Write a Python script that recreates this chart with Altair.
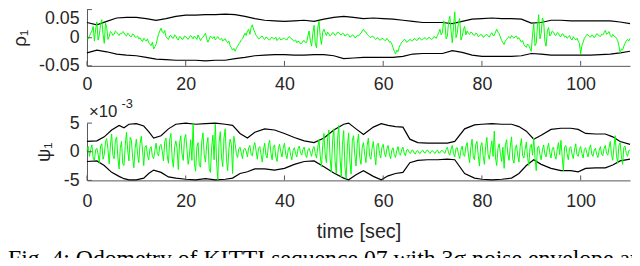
import altair as alt
import pandas as pd

# ---------------- data ----------------
STEP = 0.25  # seconds between signal samples
X_TICKS = [0, 20, 40, 60, 80, 100]
RHO_TICKS = [-0.05, 0, 0.05]
PSI_TICKS = [-5, 0, 5]

# rho_1 signal, units of 1e-3 (one row = 10 s)
RHO_1 = [
    0, -2, 3, 8, 12, 20, -6, 15, 28, -4, 5, 24, 32, 6, -10, 26, 18, -3, 2, 11,
    9, 4, 6, 12, 10, 7, 4, 8, 7, 11, 9, 5, 3, 8, 6, 2, 2, 7, 5, 1,
    1, 3, -2, 0, -4, -7, -1, -3, -6, -2, -9, -12, -14, -8, -20, -16, -12, -2, 6, 12,
    17, 10, 8, 13, 2, -1, -3, 3, 4, 0, -1, 5, 3, -2, -4, 2, 1, -3, -2, 3,
    2, -1, -3, 1, 4, 1, -2, 3, 0, -3, 5, 0, -5, -1, 1, 4, 8, -2, -8, -3,
    3, 0, -1, 2, -4, -1, 2, -2, -3, -1, -6, -3, -2, -6, -9, -6, -14, -18, -22, -19,
    -24, -19, -15, -11, -8, -4, -2, 3, 8, 4, 12, 15, 6, 18, 23, 14, 10, 4, 2, -2,
    -1, 2, 3, -1, -3, 1, 0, -3, -4, -1, 1, -2, -2, 1, -5, -2, 0, -4, -3, -1,
    -1, -3, -4, 0, 2, -1, -2, -5, -6, -4, -9, -6, -7, -11, -10, -6, -5, -9, -8, 3,
    12, -6, -15, 8, 22, -10, -18, 18, 29, 2, -12, 10, 15, 9, 4, 10, 7, 3, 5, 9,
    8, 4, 6, 10, 9, 6, 5, 8, 7, 3, 4, 7, 5, 1, 2, 5, 4, 0, 1, 4,
    3, 6, 8, 12, 15, 11, 10, 6, 4, 2, 0, 3, 2, -1, -3, 0, -1, -4, -4, -1,
    -2, -4, -5, -1, -4, -8, -7, -11, -18, -24, -29, -22, -25, -17, -12, -8, -6, -3, -4, -8,
    -7, -4, -3, -6, -5, -2, -2, -5, -4, 0, -1, -4, -3, -1, 0, -3, -2, 1, -1, -3,
    -2, 2, 1, -1, 4, 9, 15, 5, 10, 30, 25, -2, 3, 28, 38, 12, -9, 20, 46, 0,
    8, 28, 34, -4, 2, 14, 20, 5, 12, 8, 6, 10, 9, 5, 4, 8, 7, 2, 3, 6,
    5, 1, 2, 5, 6, 3, 1, 6, 9, 4, 4, 10, 15, 10, 7, 1, -5, -9, -12, -6,
    -3, 0, 2, -1, 4, 1, -1, 2, 3, -2, 0, -4, -8, -5, -12, -15, -17, -11, -14, -19,
    -24, 5, 25, -14, -10, 20, 41, -2, 8, 35, 30, -6, -15, 12, 18, 3, 6, 12, 10, 5,
    4, 9, 8, 3, 2, 7, 6, 1, 3, -1, 1, 4, -2, -4, 2, -1, -4, -1, -6, -10,
    -29, -14, -8, -1, 2, 6, 5, 2, 1, 5, 4, 0, 3, 7, 6, 3, 2, 6, 5, 9,
    13, 6, 8, 11, 4, 1, 6, 3, 2, -1, -5, -14, -27, -20, -22, -15, -10, -6, -3, -6,
    -1,
]

# rho_1 envelope, every 2 s, units of 1e-3
RHO_ENV_T = [0, 2, 4, 6, 8, 10, 12, 14, 16, 18, 20, 22, 24, 26, 28, 30, 32, 34,
             36, 38, 40, 42, 44, 46, 48, 50, 52, 54, 56, 58, 60, 62, 64, 66, 68,
             70, 72, 74, 76, 78, 80, 82, 84, 86, 88, 90, 92, 94, 96, 98, 100,
             102, 104, 106, 108, 110]
RHO_UP = [27, 23, 29, 35, 36, 36, 34, 31, 34, 38,
          40, 40, 41, 41, 42, 41, 38, 34, 31, 30,
          29, 30, 31, 29, 33, 36, 38, 36, 34, 35,
          34, 33, 31, 29, 27, 27, 27, 25, 29, 33,
          34, 35, 34, 34, 33, 26, 27, 31, 31, 30,
          30, 30, 30, 30, 28, 25]
RHO_LO = [-27, -22, -25, -29, -31, -32, -35, -38, -39, -40,
          -40, -40, -41, -40, -40, -37, -35, -32, -31, -30,
          -30, -31, -31, -30, -30, -32, -37, -36, -35, -35,
          -35, -35, -33, -29, -28, -28, -28, -23, -26, -31,
          -33, -33, -33, -33, -32, -28, -29, -31, -31, -31,
          -31, -31, -30, -29, -27, -24]

# psi_1 signal, units of 1e-3 (one row = 5 s)
PSI_1 = [
    0.2, 0.9, -0.8, 0.4, 1.2, -1.1, -1.5, 0.3, 0.6, -0.4, -1.9, 1.0, 1.4, -1.3, -0.5, 1.7, 2.3, 0.4, -2.1, 1.2,
    3.1, -0.6, -1.2, 1.9, 2.6, -0.9, -3.0, 0.7, 1.8, -2.2, -2.4, 1.1, 3.4, 0.2, -1.6, 2.5, 2.0, -1.0, -2.8, 0.6,
    2.2, -0.5, -1.9, 1.4, 2.7, 0.3, -2.4, 0.8, 1.1, -0.6, -1.4, 0.5, 0.9, -0.8, -1.2, 0.2, 1.5, -0.3, -0.7, 1.0,
    1.3, 0.1, -1.6, 1.8, 2.4, -0.7, -2.0, 2.1, 3.2, -1.1, -2.7, 0.9, 1.9, 0.6, -3.1, 1.5, 2.8, -0.4, -1.5, 2.3,
    3.0, 0.4, -2.2, -0.6, 2.1, -1.5, 4.9, -2.0, -3.4, 0.8, 1.6, -2.4, -2.7, 1.9, 3.3, -0.5, -1.8, 1.2, 2.5, -2.9,
    -3.6, 0.7, 2.9, -1.4, 4.8, -1.8, -4.9, 1.6, 3.5, -0.9, -2.6, 2.4, 4.0, -1.2, -3.3, 0.5, 2.2, 1.3, -3.8, 2.7,
    1.4, -0.3, -1.0, 0.5, 0.8, -0.2, -1.2, 0.4, 0.6, 0.1, -0.9, 0.7, 1.1, -0.5, -0.7, 0.9, 1.6, 0.2, -1.3, 0.6,
    0.9, -0.4, -1.8, 0.3, 1.5, -0.6, -1.1, 1.2, 2.0, -0.2, -1.4, 0.8, 1.2, -0.9, -1.7, 0.4, 1.3, 0.0, -0.9, 0.6,
    1.5, -0.4, -1.2, 0.3, 0.8, -0.6, -1.4, 0.2, 0.7, -0.3, -0.9, 0.5, 1.0, -0.2, -0.6, 0.4, 0.8, -0.5, -1.0, 0.3,
    0.6, -0.1, -0.8, 0.5, 0.9, -0.3, -1.1, 0.8, 2.1, -0.7, -2.6, 1.1, 3.2, -0.4, -1.9, 2.5, 3.8, -1.2, -3.5, 1.9,
    4.0, -1.5, -3.8, 2.2, 4.6, -0.8, -4.4, 1.3, 3.7, -2.6, -4.7, 0.9, 3.3, -1.7, -3.9, 2.0, 2.8, -0.6, -2.5, 1.4,
    3.1, -1.0, -2.2, 0.7, 1.6, -0.4, -1.9, 1.1, 2.4, -0.8, -1.3, 0.6, 1.8, -0.5, -2.3, 1.2, 1.5, -0.3, -1.1, 0.8,
    1.3, -0.2, -0.9, 0.5, 1.1, -0.4, -1.2, 0.3, 0.7, -0.5, -1.0, 0.2, 0.9, -0.3, -0.6, 0.4, 0.8, -0.2, -0.7, 0.3,
    0.4, -0.1, -0.3, 0.2, 0.3, -0.2, -0.4, 0.1, 0.2, -0.2, -0.3, 0.1, 0.3, -0.1, -0.2, 0.2, 0.3, -0.1, -0.3, 0.1,
    0.2, -0.1, -0.3, 0.1, 0.3, -0.2, -0.2, 0.2, 0.2, -0.1, -0.3, 0.4, 0.8, -0.2, -0.6, 0.5, 1.1, -0.3, -0.9, 0.6,
    0.7, -0.4, -1.2, 0.3, 1.0, -0.5, -0.8, 0.9, 1.6, -0.4, -1.9, 0.7, 2.2, -0.9, -1.4, 1.3, 1.8, -0.6, -2.5, 1.0,
    1.6, -0.7, -2.2, 0.9, 2.5, -0.5, -1.3, 0.4, 1.9, -0.8, 3.6, -1.1, -2.4, 0.6, 1.4, -0.3, -1.7, 0.8, -2.9, 1.2,
    2.1, -0.4, -1.5, 1.0, 2.6, -1.3, -2.0, 0.5, 1.2, -0.6, -1.8, 0.9, 2.3, -0.7, -1.1, 0.4, 1.7, -1.0, -2.4, 0.8,
    1.3, -0.6, 2.4, -1.0, -3.3, 0.7, 1.0, -0.5, -1.4, 0.3, 1.2, -0.4, -0.9, 0.6, 1.5, -0.2, -1.1, 0.5, 0.8, -0.6,
    -1.3, 0.4, 1.6, -0.5, 2.0, -0.8, -3.3, 0.9, 1.1, -0.3, -1.4, 0.6, 0.9, -0.4, -1.2, 0.3, 1.4, -0.5, -0.8, 0.4,
    0.9, -0.3, -1.1, 0.4, 0.7, -0.2, -0.9, 0.5, 1.2, -0.4, -0.8, 0.3, 0.6, -0.5, -1.0, 0.2, 0.9, -0.4, -0.7, 0.6,
    1.1, -0.3, -0.6, 0.7, 1.8, -0.5, -1.5, 0.9, 2.8, -0.6, -2.0, 1.1, 1.6, -0.7, -2.2, 0.8, 1.0, -0.3, -0.8, 0.2,
    0.3,
]

# psi_1 envelope, units of 1e-3
PSI_ENV_T = [0, 2, 3.5, 5, 6.5, 7.5, 8.5, 10, 11.5, 12.5, 13.5, 15, 16.5, 18, 20,
             22, 24, 26, 28, 29.5, 31, 32.5, 34, 36, 38, 40, 42, 44, 46, 48, 50,
             52, 53, 54.5, 56, 58, 59.6, 61, 62.5, 64, 65.4, 67, 69, 71, 73,
             74.5, 76.5, 78.5, 80, 82, 84, 86, 87.5, 89, 90.5, 92, 94, 96, 98,
             99.5, 101, 103, 105, 106.5, 108, 110]
PSI_UP = [1.8, 1.9, 2.6, 3.8, 4.6, 4.2, 4.8, 4.9, 4.5, 3.5, 2.4, 2.8, 4.0, 4.8, 5.0,
          4.8, 4.9, 5.0, 4.8, 4.6, 3.2, 2.4, 3.4, 4.0, 3.8, 3.2, 2.5, 1.9, 1.6, 2.4, 3.8,
          4.8, 5.0, 4.0, 3.0, 4.3, 4.9, 4.6, 4.4, 4.3, 2.2, 1.6, 1.5, 1.5, 1.5,
          1.8, 4.0, 4.7, 4.8, 4.9, 4.8, 4.8, 4.4, 3.6, 2.2, 2.9, 3.9, 4.1, 4.1,
          3.9, 3.2, 3.1, 3.1, 2.6, 1.8, 1.3]
PSI_LO = [-1.7, -1.6, -2.4, -3.6, -4.3, -4.7, -4.9, -4.9, -4.6, -3.8, -3.2, -3.6, -4.4, -4.6, -4.8,
          -4.9, -4.7, -4.9, -4.8, -4.6, -3.8, -3.5, -3.0, -3.0, -3.2, -2.9, -2.2, -1.7, -1.6, -2.6, -3.7,
          -4.6, -4.9, -4.0, -3.3, -4.3, -4.9, -4.2, -3.8, -3.6, -1.9, -1.5, -1.4, -1.4, -1.3,
          -1.4, -3.8, -4.6, -4.8, -4.9, -4.8, -4.6, -3.8, -2.4, -1.4, -2.2, -2.9, -3.3, -3.3,
          -3.5, -2.9, -2.8, -2.8, -2.3, -1.6, -1.3]

CAPTION = "Fig. 4: Odometry of KITTI sequence 07 with 3σ noise envelope and"

# ---------------- tables ----------------
rho_df = pd.DataFrame({"t": [i * STEP for i in range(len(RHO_1))],
                       "v": [x / 1000 for x in RHO_1]})
rho_env = pd.DataFrame({"t": RHO_ENV_T,
                        "up": [x / 1000 for x in RHO_UP],
                        "lo": [x / 1000 for x in RHO_LO]})
psi_df = pd.DataFrame({"t": [i * STEP for i in range(len(PSI_1))], "v": PSI_1})
psi_env = pd.DataFrame({"t": PSI_ENV_T, "up": PSI_UP, "lo": PSI_LO})
xt_df = pd.DataFrame({"t": X_TICKS})
one = pd.DataFrame({"a": [0]})

# ---------------- styling ----------------
W, H1, H2 = 550, 57, 58
SPACING = 58
FONT = "Liberation Sans"
TXT = "#262626"
AX = "#555555"
GREEN = "#00ff00"

xscale = alt.Scale(domain=[0, 110], nice=False, zero=False)
rho_scale = alt.Scale(domain=[-0.05, 0.05], nice=False, zero=False)
psi_scale = alt.Scale(domain=[-5, 5], nice=False, zero=False)


def x_axis(pad, title=None):
    kw = dict(values=X_TICKS, tickSize=0, labelPadding=pad, labelFontSize=18,
              labelFont=FONT, labelColor=TXT, domainColor=AX, domainWidth=1,
              grid=False, labelFlush=False, labelOverlap=False)
    if title:
        kw.update(title=title, titleFont=FONT, titleFontSize=20,
                  titleFontWeight="normal", titleColor=TXT, titleY=58,
                  titleBaseline="alphabetic")
    else:
        kw.update(title=None)
    return alt.Axis(**kw)


def y_axis(values, expr, title, title_x, h, top_test):
    return alt.Axis(values=values, tickSize=0, labelPadding=8, labelFontSize=18,
                    labelFont=FONT, labelColor=TXT, labelExpr=expr,
                    labelBaseline={"condition": {"test": top_test, "value": "top"},
                                   "value": "middle"},
                    domainColor=AX, domainWidth=1, grid=False,
                    title=title, titleFont=FONT, titleFontSize=19,
                    titleFontWeight="normal", titleColor=TXT, titleX=title_x,
                    titleY=h / 2, titleBaseline="middle", titleAlign="center",
                    titleAngle=270)


top_x = x_axis(10)
top_y = y_axis(RHO_TICKS,
               "datum.value > 0.01 ? '0.05' : (datum.value < -0.01 ? '-0.05' : '0')",
               "ρ₁", -68, H1, "datum.value > 0.04")
bot_x = x_axis(12, "time [sec]")
bot_y = y_axis(PSI_TICKS,
               "datum.value > 1 ? '5' : (datum.value < -1 ? '-5' : '0')",
               "ψ₁", -44, H2, "datum.value > 9")


def panel(sig, env, yscale, xa, ya, ticks, h):
    X = alt.X("t:Q", scale=xscale, axis=xa)
    up = alt.Chart(env).mark_line(color="black", strokeWidth=1.2).encode(
        x=X, y=alt.Y("up:Q", scale=yscale, axis=ya))
    lo = alt.Chart(env).mark_line(color="black", strokeWidth=1.2).encode(
        x=X, y=alt.Y("lo:Q", scale=yscale, axis=ya))
    g = alt.Chart(sig).mark_line(color=GREEN, strokeWidth=1).encode(
        x=X, y=alt.Y("v:Q", scale=yscale, axis=ya))
    xt = alt.Chart(xt_df).mark_rule(color=AX, strokeWidth=1).encode(
        x=X, y=alt.value(h), y2=alt.value(h - 5))
    yt = alt.Chart(pd.DataFrame({"v": ticks})).mark_rule(color=AX, strokeWidth=1).encode(
        y=alt.Y("v:Q", scale=yscale, axis=ya), x=alt.value(0), x2=alt.value(5))
    return [up, lo, g, xt, yt]


top = alt.layer(*panel(rho_df, rho_env, rho_scale, top_x, top_y, RHO_TICKS, H1)).properties(
    width=W, height=H1)

exp_a = alt.Chart(one).mark_text(text="×10", font=FONT, fontSize=17, color=TXT,
                                 align="left", baseline="alphabetic").encode(
    x=alt.value(2), y=alt.value(-6))
exp_b = alt.Chart(one).mark_text(text="-3", font=FONT, fontSize=13, color=TXT,
                                 align="left", baseline="alphabetic").encode(
    x=alt.value(35), y=alt.value(-15))
cap = alt.Chart(one).mark_text(text=CAPTION, font="Liberation Serif", fontSize=24,
                               color="black", align="left", baseline="alphabetic").encode(
    x=alt.value(-80), y=alt.value(145))

bottom = alt.layer(*panel(psi_df, psi_env, psi_scale, bot_x, bot_y, PSI_TICKS, H2),
                   exp_a, exp_b, cap).properties(width=W, height=H2)

chart = alt.vconcat(top, bottom, spacing=SPACING, bounds="flush").properties(
    autosize=alt.AutoSizeParams(type="none"),
    padding={"left": 80, "top": 0, "right": 2, "bottom": 250},
).configure_view(stroke=None)

chart.save("out.html", embed_options={"renderer": "svg", "actions": False})
